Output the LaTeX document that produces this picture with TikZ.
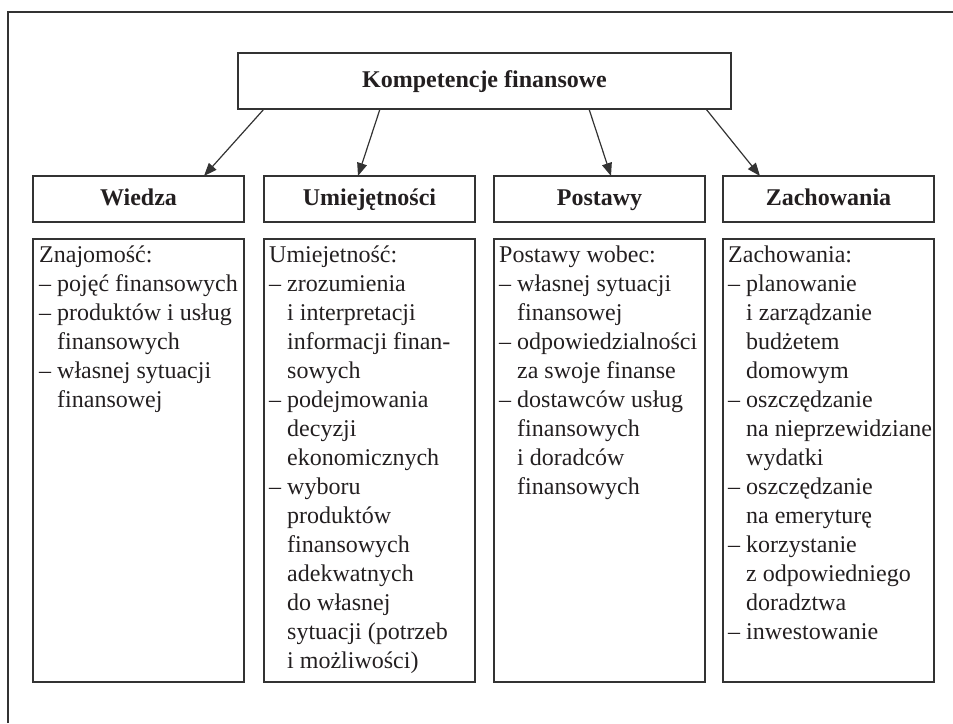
\documentclass[tikz,border=0pt]{standalone}
\usepackage{fontspec}
\setmainfont{Liberation Serif}
\usetikzlibrary{arrows.meta,calc}
\definecolor{ln}{HTML}{333333}
\definecolor{tx}{HTML}{231F20}
\newcommand\hind{\phantom{–\ }}
\begin{document}
\begin{tikzpicture}[x=1pt,y=-1pt,
  box/.style={draw=ln,line width=1.3pt,inner sep=0pt,outer sep=0pt},
  head/.style={box,minimum width=211pt,minimum height=46pt,font=\bfseries\fontsize{24}{29}\selectfont,text height=16pt,text depth=4pt,text=tx},
  cbox/.style={box,minimum width=211pt,minimum height=443pt,anchor=north west},
  ctext/.style={anchor=north west,inner sep=0pt,align=left,font=\fontsize{24}{29}\selectfont,text=tx},
  arr/.style={draw=ln,line width=1.2pt,-{Triangle[length=13pt,width=10pt]}}]
\useasboundingbox (0,0) rectangle (953,723);
\draw[ln,line width=1.2pt] (8,723) -- (8,12) -- (953,12);
\node[box,minimum width=493pt,minimum height=56pt,font=\bfseries\fontsize{24}{29}\selectfont,text height=16pt,text depth=4pt,text=tx] (top) at (484.5,81) {Kompetencje finansowe};
\node[head] (h1) at (138.5,199) {Wiedza};
\node[head] (h2) at (369.5,199) {Umiejętności};
\node[head] (h3) at (599.5,199) {Postawy};
\node[head] (h4) at (828.5,199) {Zachowania};
\node[cbox] (c1) at (33,239) {};
\node[cbox] (c2) at (264,239) {};
\node[cbox] (c3) at (494,239) {};
\node[cbox] (c4) at (723,239) {};
\draw[arr] ($(top.south west)+(26,0)$) -- ($(h1.north west)+(171,0)$);
\draw[arr] ($(top.south west)+(142,0)$) -- ($(h2.north west)+(94,0)$);
\draw[arr] ($(top.south west)+(351,0)$) -- ($(h3.north west)+(117,0)$);
\draw[arr] ($(top.south west)+(468,0)$) -- ($(h4.north west)+(37,0)$);
\node[ctext] (t1) at ($(c1.north west)+(6,2.7)$) {\strut Znajomość:\\
– pojęć finansowych\\
– produktów i usług\\
\hind finansowych\\
– własnej sytuacji\\
\hind finansowej};
\node[ctext] (t2) at ($(c2.north west)+(5,2.7)$) {\strut Umiejetność:\\
– zrozumienia\\
\hind i interpretacji\\
\hind informacji finan-\\
\hind sowych\\
– podejmowania\\
\hind decyzji\\
\hind ekonomicznych\\
– wyboru\\
\hind produktów\\
\hind finansowych\\
\hind adekwatnych\\
\hind do własnej\\
\hind sytuacji (potrzeb\\
\hind i możliwości)};
\node[ctext] (t3) at ($(c3.north west)+(5,2.7)$) {\strut Postawy wobec:\\
– własnej sytuacji\\
\hind finansowej\\
– odpowiedzialności\\
\hind za swoje finanse\\
– dostawców usług\\
\hind finansowych\\
\hind i doradców\\
\hind finansowych};
\node[ctext] (t4) at ($(c4.north west)+(5,2.7)$) {\strut Zachowania:\\
– planowanie\\
\hind i zarządzanie\\
\hind budżetem\\
\hind domowym\\
– oszczędzanie\\
\hind na nieprzewidziane\\
\hind wydatki\\
– oszczędzanie\\
\hind na emeryturę\\
– korzystanie\\
\hind z odpowiedniego\\
\hind doradztwa\\
– inwestowanie};
\end{tikzpicture}
\end{document}
